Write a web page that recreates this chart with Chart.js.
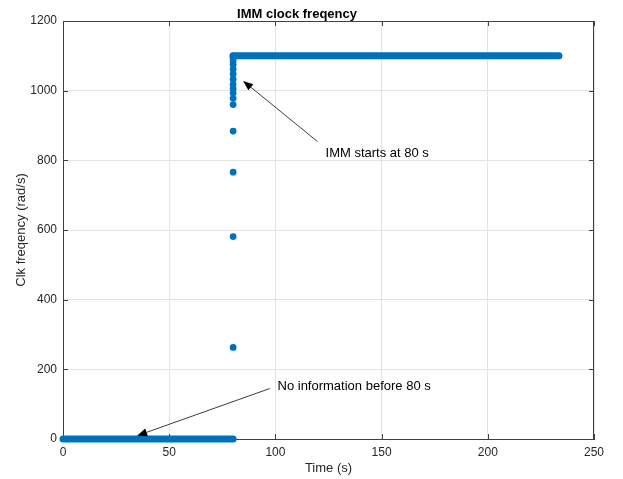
<!DOCTYPE html>
<html>
<head>
<meta charset="utf-8">
<script src="https://cdn.jsdelivr.net/npm/chart.js@4.4.1/dist/chart.umd.min.js"></script>
<style>
  html, body { margin: 0; padding: 0; background: #ffffff; }
  #wrap { width: 623px; height: 479px; }
</style>
</head>
<body>
<div id="wrap"><canvas id="c" width="623" height="479"></canvas></div>
<script>
// ---- data ----
const chartTitle = 'IMM clock freqency';
const xAxisTitle = 'Time (s)';
const yAxisTitle = 'Clk freqency (rad/s)';
const xTicks = [0, 50, 100, 150, 200, 250];
const yTicks = [0, 200, 400, 600, 800, 1000, 1200];

// dense samples before IMM start (they merge into a thick band)
const preTimes = [0, 80.1];
const preValues = [0, 0];
// dense samples after the transition
const postTimes = [80.1, 233.5];
const postValues = [1100, 1100];
// individual samples during the transition at t = 80 s
const transTimes = [80.1, 80.1, 80.1, 80.1, 80.1, 80.1, 80.1, 80.1, 80.1, 80.1, 80.1, 80.1, 80.1, 80.1, 80.1, 80.1, 80.1];
const transValues = [263, 581, 766, 884, 960, 978, 993, 1005, 1018, 1033, 1048, 1062, 1075, 1085, 1093, 1098, 1100];

// annotations: text + arrow (data coordinates)
const noteTexts = ['IMM starts at 80 s', 'No information before 80 s'];
const noteTextX = [123.6, 101];
const noteTextY = [819, 150];
const arrowFromX = [119.8, 97.4];
const arrowFromY = [854, 145];
const arrowToX = [84.8, 34.9];
const arrowToY = [1028, 9.4];

// ---- styling ----
const FONT = '"Liberation Sans", Arial, Helvetica, sans-serif';
const BLUE = '#0072BD';
const AXIS = '#404040';

const toPts = (xs, ys) => xs.map((x, i) => ({ x: x, y: ys[i] }));

const boxPlugin = {
  id: 'boxAndNotes',
  beforeDatasetsDraw(chart) {
    const { ctx, chartArea: a, scales: { x, y } } = chart;
    ctx.save();
    ctx.strokeStyle = AXIS;
    ctx.lineWidth = 1;
    ctx.beginPath();
    ctx.moveTo(a.left, a.top + 0.5); ctx.lineTo(a.right, a.top + 0.5);
    ctx.moveTo(a.right - 0.5, a.top); ctx.lineTo(a.right - 0.5, a.bottom);
    const tl = 5;
    xTicks.forEach(v => {
      const px = Math.round(x.getPixelForValue(v)) + 0.5;
      ctx.moveTo(px, a.bottom); ctx.lineTo(px, a.bottom - tl);
      ctx.moveTo(px, a.top); ctx.lineTo(px, a.top + tl);
    });
    yTicks.forEach(v => {
      const py = Math.round(y.getPixelForValue(v)) + 0.5;
      ctx.moveTo(a.left, py); ctx.lineTo(a.left + tl, py);
      ctx.moveTo(a.right, py); ctx.lineTo(a.right - tl, py);
    });
    ctx.stroke();
    ctx.restore();
  },
  afterDatasetsDraw(chart) {
    const { ctx, scales: { x, y } } = chart;
    ctx.save();
    ctx.strokeStyle = '#262626';
    ctx.fillStyle = '#000000';
    ctx.lineWidth = 0.9;
    for (let i = 0; i < noteTexts.length; i++) {
      const x1 = x.getPixelForValue(arrowFromX[i]);
      const y1 = y.getPixelForValue(arrowFromY[i]);
      const x2 = x.getPixelForValue(arrowToX[i]);
      const y2 = y.getPixelForValue(arrowToY[i]);
      const ang = Math.atan2(y2 - y1, x2 - x1);
      const hl = 10, hw = 4;
      const bx = x2 - hl * Math.cos(ang), by = y2 - hl * Math.sin(ang);
      ctx.beginPath();
      ctx.moveTo(x1, y1); ctx.lineTo(bx, by);
      ctx.stroke();
      ctx.beginPath();
      ctx.moveTo(x2, y2);
      ctx.lineTo(bx + hw * Math.sin(ang), by - hw * Math.cos(ang));
      ctx.lineTo(bx - hw * Math.sin(ang), by + hw * Math.cos(ang));
      ctx.closePath();
      ctx.fill();
      ctx.font = '13px ' + FONT;
      ctx.textAlign = 'left';
      ctx.textBaseline = 'middle';
      ctx.fillText(noteTexts[i], x.getPixelForValue(noteTextX[i]), y.getPixelForValue(noteTextY[i]));
    }
    ctx.restore();
  }
};

new Chart(document.getElementById('c'), {
  type: 'scatter',
  data: {
    datasets: [
      {
        data: toPts(preTimes, preValues), showLine: true, clip: false,
        borderColor: BLUE, borderWidth: 7, borderCapStyle: 'round',
        pointRadius: 0, backgroundColor: BLUE
      },
      {
        data: toPts(postTimes, postValues), showLine: true, clip: false,
        borderColor: BLUE, borderWidth: 7, borderCapStyle: 'round',
        pointRadius: 0, backgroundColor: BLUE
      },
      {
        data: toPts(transTimes, transValues), showLine: false, clip: false,
        pointRadius: 3.4, pointBorderWidth: 0,
        backgroundColor: BLUE, borderColor: BLUE
      }
    ]
  },
  options: {
    responsive: false,
    animation: false,
    devicePixelRatio: 1,
    layout: { padding: { top: 2, right: 29, bottom: 0, left: 0 } },
    plugins: {
      legend: { display: false },
      tooltip: { enabled: false },
      title: {
        display: true, text: chartTitle, color: '#000000',
        font: { family: FONT, size: 13, weight: 'bold', lineHeight: 1.0 },
        padding: { top: 6, bottom: 0 }
      }
    },
    scales: {
      x: {
        type: 'linear', min: 0, max: 250,
        afterBuildTicks: s => { s.ticks = xTicks.map(v => ({ value: v })); },
        afterFit: s => { s.height = 40; },
        ticks: { color: '#262626', font: { family: FONT, size: 12 }, padding: 6, maxRotation: 0,
                 callback: v => String(v) },
        grid: { color: '#e4e4e4', drawTicks: false, lineWidth: 1 },
        border: { display: true, color: AXIS, width: 1 },
        title: { display: true, text: xAxisTitle, color: '#262626',
                 font: { family: FONT, size: 13, lineHeight: 1.2 }, padding: { top: 0, bottom: 3 } }
      },
      y: {
        type: 'linear', min: 0, max: 1200,
        afterBuildTicks: s => { s.ticks = yTicks.map(v => ({ value: v })); },
        afterFit: s => { s.width = 63; },
        ticks: { color: '#262626', font: { family: FONT, size: 12 }, padding: 6,
                 callback: v => String(v) },
        grid: { color: '#e4e4e4', drawTicks: false, lineWidth: 1 },
        border: { display: true, color: AXIS, width: 1 },
        title: { display: true, text: yAxisTitle, color: '#262626',
                 font: { family: FONT, size: 13, lineHeight: 1.2 }, padding: { top: 14, bottom: 0 } }
      }
    }
  },
  plugins: [boxPlugin]
});
</script>
</body>
</html>
